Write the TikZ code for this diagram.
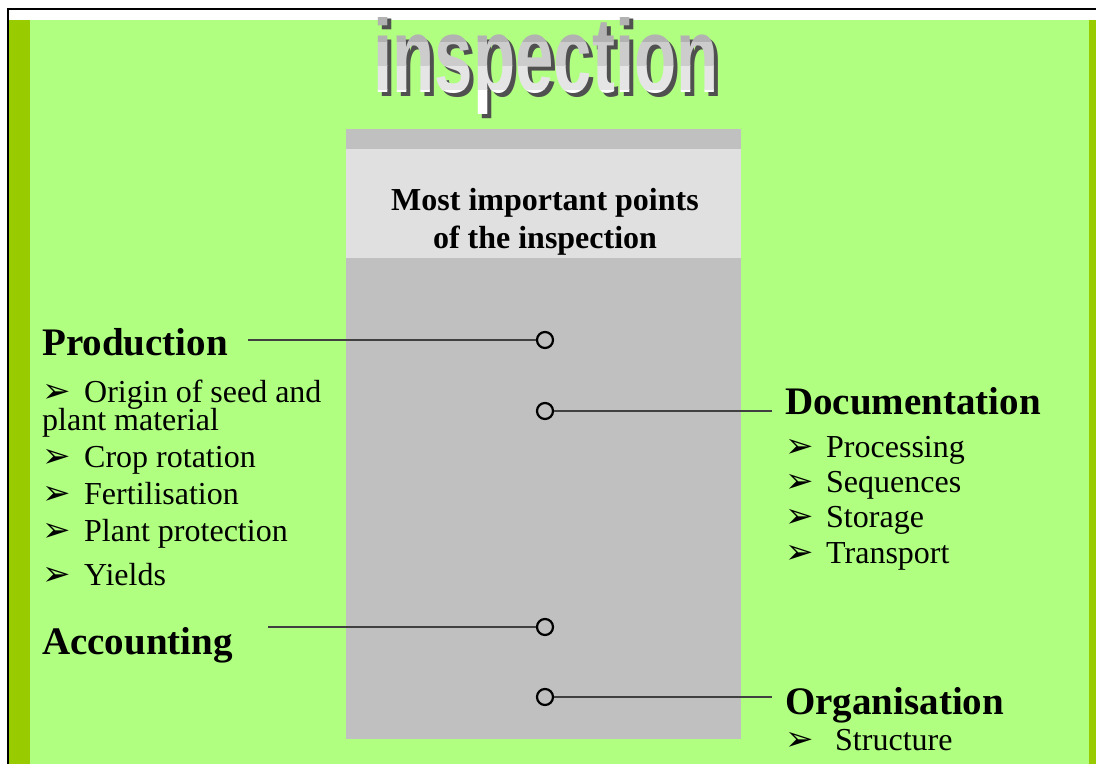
\documentclass[tikz,border=0pt]{standalone}
\usepackage{fontspec}
\setmainfont{Liberation Serif}
\newfontfamily\titlefont{Liberation Sans}
\newfontfamily\dingfont{DejaVu Sans}
\usetikzlibrary{positioning}
\definecolor{leafgreen}{HTML}{B0FF80}
\definecolor{stemgreen}{HTML}{99CC00}
\definecolor{boxgrey}{HTML}{C0C0C0}
\definecolor{bandgrey}{HTML}{E0E0E0}
\definecolor{shadowgrey}{HTML}{505050}
\newcommand{\arrowitem}[2][42pt]{\makebox[#1][l]{\dingfont\fontsize{34}{34}\selectfont\char"27A2}#2}
\newcommand{\logoword}{\scalebox{1}[1.55]{inspection}}

\begin{document}
\begin{tikzpicture}[x=1pt,y=1pt]
    \tikzstyle{head}=[font=\bfseries\fontsize{39}{39}\selectfont,anchor=base west,inner sep=0]
    \tikzstyle{item}=[font=\fontsize{32}{32}\selectfont,anchor=base west,inner sep=0]
    \tikzstyle{hole}=[circle,draw=black,line width=2.2,minimum size=16,inner sep=0]
    \tikzstyle{wire}=[draw=black!75,line width=1.3]
    \tikzstyle{logo}=[font=\titlefont\bfseries\fontsize{69}{69}\selectfont,anchor=base,inner sep=0]
    {
        \useasboundingbox (0,0) rectangle (1096,764);
        \fill[white] (0,0) rectangle (1096,764);
        \fill[leafgreen] (9,0) rectangle (1096,744);
        \fill[stemgreen] (9,0) rectangle (30,744);
        \fill[stemgreen] (1089,0) rectangle (1096,744);
        \draw[line width=2] (8,0) -- (8,755) -- (1096,755);

        % grey panel
        \fill[boxgrey] (346,25) rectangle (741,635);
        \fill[bandgrey] (346,506) rectangle (741,615);
        \node[font=\bfseries\fontsize{32}{38}\selectfont,align=center,inner sep=0] (panel) at (545,542) {Most important points\\of the inspection};

        % title, shadow then banded grey
        \node[logo,text=shadowgrey] (logo) at (550,667) {\logoword};
        \foreach \k in {0,...,3}{
            \pgfmathsetmacro\pct{10*\k}
            \begin{scope}
                \clip (360,650+24*\k) rectangle (745,674.5+24*\k);
                \node[logo,text=black!\pct] (logo\k) at (546,671) {\logoword};
            \end{scope}
        }

        % points
        \node[hole] (c1) at (545,424) {};
        \node[hole] (c2) at (545,353) {};
        \node[hole] (c3) at (545,137) {};
        \node[hole] (c4) at (545,67) {};

        \node[head] (prod) at (42,408) {Production};
        \node[item,below=47pt of prod.base west,anchor=base west] (origin) {\arrowitem{Origin of seed and}};
        \node[item,below=28pt of origin.base west,anchor=base west] (plant) {plant material};
        \node[item,below=37pt of plant.base west,anchor=base west] (crop) {\arrowitem{Crop rotation}};
        \node[item,below=37pt of crop.base west,anchor=base west] (fert) {\arrowitem{Fertilisation}};
        \node[item,below=37pt of fert.base west,anchor=base west] (prot) {\arrowitem{Plant protection}};
        \node[item,below=44pt of prot.base west,anchor=base west] (yield) {\arrowitem{Yields}};
        \node[head] (acct) at (42,110) {Accounting};

        \node[head] (doc) at (785,349) {Documentation};
        \node[item,below=43pt of doc.base west,anchor=base west] (proc) {\arrowitem[41pt]{Processing}};
        \node[item,below=35pt of proc.base west,anchor=base west] (seq) {\arrowitem[41pt]{Sequences}};
        \node[item,below=35pt of seq.base west,anchor=base west] (stor) {\arrowitem[41pt]{Storage}};
        \node[item,below=36pt of stor.base west,anchor=base west] (trans) {\arrowitem[41pt]{Transport}};
        \node[head] (org) at (785,50) {Organisation};
        \node[item,below=36pt of org.base west,anchor=base west] (struct) {\arrowitem[50pt]{Structure}};

        \coordinate (prodtip) at (248,424);
        \coordinate (doctip) at (772,353);
        \coordinate (accttip) at (268,137);
        \coordinate (orgtip) at (772,67);
        \path[wire] (prodtip) -- (c1)
            (c2) -- (doctip)
            (accttip) -- (c3)
            (c4) -- (orgtip);
    }
\end{tikzpicture}
\end{document}
